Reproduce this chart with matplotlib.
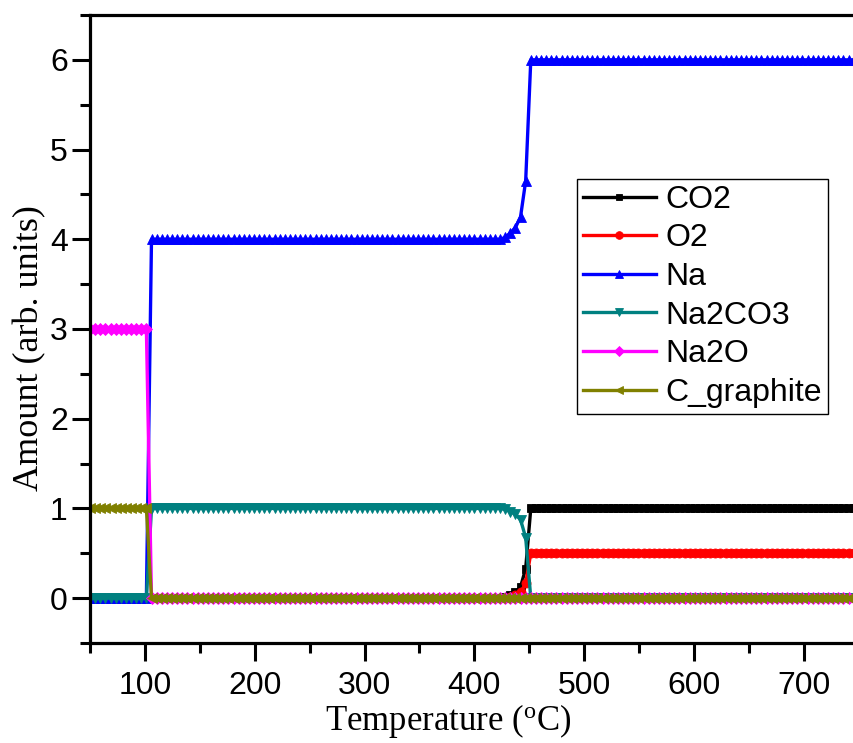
import numpy as np
import matplotlib
matplotlib.use("Agg")
import matplotlib.pyplot as plt
from matplotlib.ticker import MultipleLocator

# Temperature grid (°C): 151 equally spaced points from 50 to 750
temperature = np.linspace(50, 750, 151)

# Equilibrium amounts of each species along the temperature grid
co2 = [0.0] * 81 + [0.01, 0.035, 0.07, 0.125, 0.33] + [1.0] * 65
o2 = [0.0] * 81 + [0.005, 0.018, 0.035, 0.063, 0.165] + [0.5] * 65
na = [0.0] * 12 + [4.0] * 69 + [4.02, 4.07, 4.13, 4.25, 4.65] + [6.0] * 65
na2co3 = [0.0] * 12 + [1.0] * 69 + [0.99, 0.965, 0.935, 0.875, 0.675] + [0.0] * 65
na2o = [3.0] * 12 + [0.0] * 139
c_graphite = [1.0] * 12 + [0.0] * 139

series_names = ["CO2", "O2", "Na", "Na2CO3", "Na2O", "C_graphite"]
series_values = [co2, o2, na, na2co3, na2o, c_graphite]
series_colors = ["#000000", "#FF0000", "#0000FF", "#008080", "#FF00FF", "#808000"]
series_markers = ["s", "o", "^", "v", "D", "<"]
series_msize = [5.5, 6.5, 7.0, 7.0, 6.0, 7.0]

x_ticks = [100, 200, 300, 400, 500, 600, 700]
y_ticks = [0, 1, 2, 3, 4, 5, 6]

fig = plt.figure(figsize=(8.54, 7.43), dpi=100)
ax = fig.add_axes([90 / 854, 100 / 743, 1 - 90 / 854, 628 / 743])

for name, vals, col, mk, ms in zip(series_names, series_values, series_colors,
                                   series_markers, series_msize):
    ax.plot(temperature, vals, color=col, lw=2.4, marker=mk, markersize=ms,
            markeredgewidth=0.6, markeredgecolor=col, markerfacecolor=col,
            label=name)

ax.set_xlim(50, 745.6)
ax.set_ylim(-0.5, 6.5)
ax.set_xticks(x_ticks)
ax.set_yticks(y_ticks)
ax.xaxis.set_minor_locator(MultipleLocator(50))
ax.yaxis.set_minor_locator(MultipleLocator(0.5))

for lab in ax.get_xticklabels() + ax.get_yticklabels():
    lab.set_family("Liberation Sans")
    lab.set_fontsize(23)

ax.tick_params(which="major", direction="out", length=13, width=2.2, pad=3)
ax.tick_params(which="minor", direction="out", length=7, width=2.2)
ax.tick_params(axis="x", which="major", pad=7)
ax.tick_params(top=False, right=False, which="both")

for side in ("left", "bottom", "top"):
    ax.spines[side].set_linewidth(2.3)
ax.spines["right"].set_visible(False)

ax.set_xlabel("Temperature ($\\mathregular{^o}$C)", family="Liberation Serif",
              fontsize=25)
ax.set_ylabel("Amount (arb. units)", family="Liberation Serif", fontsize=26)
ax.xaxis.set_label_coords(0.4686, -0.094)
ax.xaxis.label.set_va("top")
ax.yaxis.set_label_coords(-0.079, 0.47)
ax.yaxis.label.set_va("center")

leg = ax.legend(loc="upper left", bbox_to_anchor=(577 / 854, 1 - 179 / 743),
                bbox_transform=fig.transFigure,
                prop={"family": "Liberation Sans", "size": 23},
                frameon=True, fancybox=False, edgecolor="black", framealpha=1,
                handlelength=2.3, handletextpad=0.3, labelspacing=0.27,
                borderpad=0.18, borderaxespad=0, markerscale=0.85)
leg.get_frame().set_linewidth(1.0)

fig.savefig("out.png", dpi=100)
